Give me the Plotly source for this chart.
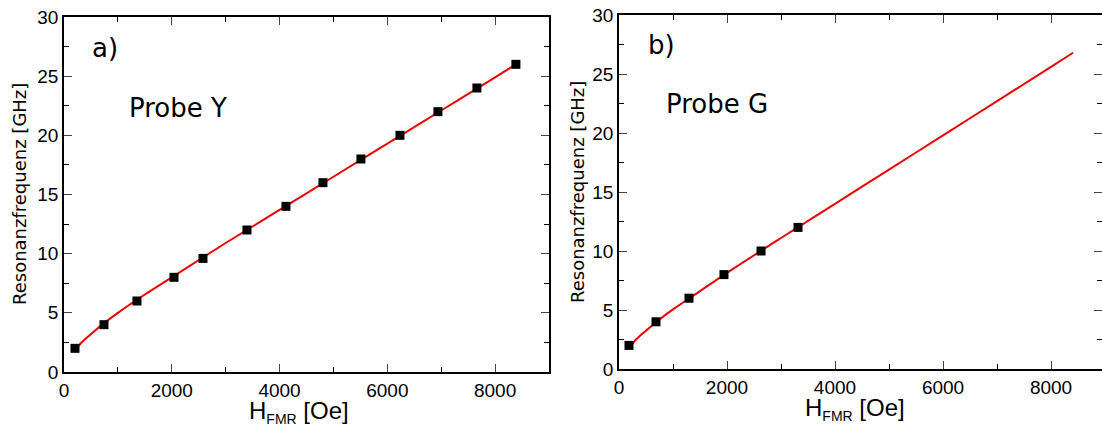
import plotly.graph_objects as go

# Probe Y (panel a)
h_y = [204, 742, 1354, 2041, 2579, 3395, 4119, 4805, 5510, 6234, 6939, 7662, 8386]
f_y = [2, 4, 6, 8, 9.6, 12, 14, 16, 18, 20, 22, 24, 26]
fit_h_y = [200, 350, 500, 750, 1000, 1500, 2000, 3000, 4000, 5000, 6000, 7000, 8000, 8386]
fit_f_y = [1.85, 2.6, 3.2, 4.15, 5.0, 6.55, 8.0, 10.9, 13.7, 16.5, 19.3, 22.1, 24.9, 26.0]

# Probe G (panel b)
h_g = [185, 685, 1296, 1944, 2630, 3315]
f_g = [2, 4, 6, 8, 10, 12]
fit_h_g = [200, 350, 500, 750, 1000, 1500, 2000, 3000, 4000, 5000, 6000, 7000, 8000, 8407]
fit_f_g = [1.9, 2.65, 3.25, 4.2, 5.05, 6.6, 8.15, 11.1, 14.0, 16.9, 19.8, 22.7, 25.6, 26.8]

x_ticks = [0, 2000, 4000, 6000, 8000]
y_ticks = [0, 5, 10, 15, 20, 25, 30]

W, H = 1102, 434
RED = "rgb(235,0,0)"

fig = go.Figure()

for xa, ya, hx, fy, fx, ff in [("x", "y", h_y, f_y, fit_h_y, fit_f_y),
                               ("x2", "y2", h_g, f_g, fit_h_g, fit_f_g)]:
    fig.add_trace(go.Scatter(x=fx, y=ff, xaxis=xa, yaxis=ya, mode="lines",
                             line=dict(color=RED, width=2, shape="spline"),
                             showlegend=False, hoverinfo="skip"))
    fig.add_trace(go.Scatter(x=hx, y=fy, xaxis=xa, yaxis=ya, mode="markers",
                             marker=dict(symbol="square", size=9, color="black"),
                             showlegend=False))

tickfont = dict(family="Liberation Sans, Arial", size=19, color="black")

def xaxis(domain, rng, anchor):
    return dict(domain=domain, range=rng, anchor=anchor,
                tickvals=x_ticks, ticks="inside", ticklen=8, tickwidth=1,
                showline=True, linecolor="black", linewidth=1.5, mirror="allticks",
                showgrid=False, zeroline=False, tickfont=tickfont, automargin=False,
                minor=dict(dtick=1000, tick0=0, ticks="inside", ticklen=5, tickcolor="black"))

def yaxis(domain, anchor):
    return dict(domain=domain, range=[0, 30], anchor=anchor,
                tickvals=y_ticks, ticks="inside", ticklen=8, tickwidth=1,
                showline=True, linecolor="black", linewidth=1.5, mirror="allticks",
                showgrid=False, zeroline=False, tickfont=tickfont, automargin=False,
                minor=dict(dtick=2.5, tick0=0, ticks="inside", ticklen=5, tickcolor="black"))

fig.update_layout(
    width=W, height=H,
    margin=dict(l=0, r=0, t=0, b=0, autoexpand=False),
    paper_bgcolor="white", plot_bgcolor="white",
    xaxis=xaxis([64 / W, 549 / W], [0, 9000], "y"),
    yaxis=yaxis([1 - 372 / H, 1 - 17 / H], "x"),
    xaxis2=xaxis([619 / W, 1.0], [0, 8944], "y2"),
    yaxis2=yaxis([1 - 369 / H, 1 - 15 / H], "x2"),
)

label_font = dict(family="DejaVu Sans, Verdana", size=26, color="black")
ytitle_font = dict(family="DejaVu Sans, Verdana", size=18, color="black")
xtitle_font = dict(family="Liberation Sans, Arial", size=24, color="black")
xtitle = "H<sub><span style='font-size:14px'>FMR</span></sub> [Oe]"

annos = [
    (105, 48, "a)", label_font, 0),
    (178, 108, "Probe Y", label_font, 0),
    (661, 45, "b)", label_font, 0),
    (717, 104, "Probe G", label_font, 0),
    (20, 194, "Resonanzfrequenz [GHz]", ytitle_font, -90),
    (577, 192, "Resonanzfrequenz [GHz]", ytitle_font, -90),
    (299, 412, xtitle, xtitle_font, 0),
    (855, 409, xtitle, xtitle_font, 0),
]
for x, y, text, font, ang in annos:
    fig.add_annotation(x=x / W, y=1 - y / H, xref="paper", yref="paper",
                       text=text, showarrow=False, font=font, textangle=ang,
                       xanchor="center", yanchor="middle")

fig.write_html("out.html", config={"displayModeBar": False},
               post_script="document.body.style.margin='0';")
